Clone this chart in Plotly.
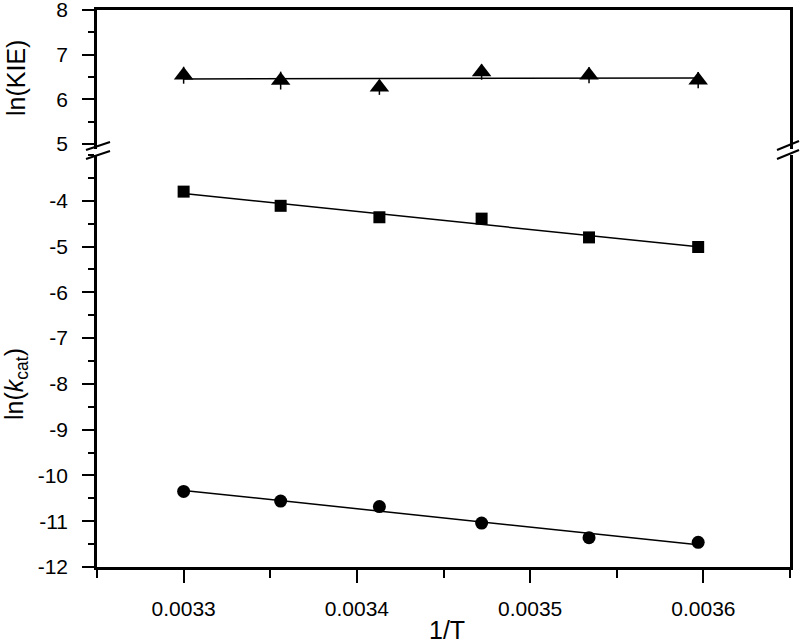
import numpy as np
import plotly.graph_objects as go
from plotly.subplots import make_subplots

# ---- data ----
inv_T = [0.003300, 0.003356, 0.003413, 0.003472, 0.003534, 0.003597]
ln_kie = [6.54, 6.42, 6.27, 6.61, 6.54, 6.43]
ln_kie_err = [0.19, 0.20, 0.17, 0.17, 0.18, 0.18]
ln_kcat_sq = [-3.80, -4.11, -4.36, -4.39, -4.80, -5.01]
ln_kcat_sq_err = [0.03, 0.03, 0.03, 0.03, 0.03, 0.03]
ln_kcat_ci = [-10.35, -10.56, -10.68, -11.04, -11.36, -11.46]
ln_kcat_ci_err = [0.03, 0.03, 0.03, 0.03, 0.08, 0.03]

x_ticks = [0.0033, 0.0034, 0.0035, 0.0036]
x_tick_text = ["0.0033", "0.0034", "0.0035", "0.0036"]
y_top_ticks = [5, 6, 7, 8]
y_top_text = ["5", "6", "7", "8"]
y_bot_ticks = [-12, -11, -10, -9, -8, -7, -6, -5, -4]
y_bot_text = ["-12", "-11", "-10", "-9", "-8", "-7", "-6", "-5", "-4"]

FONT = "Liberation Sans, Arial, sans-serif"

# plot box in screen pixels (the page body margin is removed below)
W, H = 800, 643
SCR_L, SCR_R, SCR_T, SCR_B = 97, 790, 10, 567
L, T = SCR_L, SCR_T
R, B = W - SCR_R, H - SCR_B
plot_h = SCR_B - SCR_T
plot_w = SCR_R - SCR_L
top_bottom_px = 149
bot_top_px = 155

top_dom = [(SCR_B - top_bottom_px) / plot_h, 1.0]
bot_dom = [0.0, (SCR_B - bot_top_px) / plot_h]

fig = make_subplots(rows=2, cols=1, shared_xaxes=True, vertical_spacing=0.0)


def fit_line(x, y):
    k, b = np.polyfit(np.array(x), np.array(y), 1)
    xs = np.array([min(x), max(x)])
    return xs, k * xs + b


def add_series(x, y, err, symbol, size, row):
    xs, ys = fit_line(x, y)
    fig.add_trace(go.Scatter(x=xs, y=ys, mode="lines",
                             line=dict(color="black", width=1.5),
                             showlegend=False, hoverinfo="skip"), row=row, col=1)
    fig.add_trace(go.Scatter(x=x, y=y, mode="markers",
                             marker=dict(symbol=symbol, size=size, color="black"),
                             error_y=dict(type="data", array=err, color="black",
                                          thickness=1.5, width=0),
                             showlegend=False), row=row, col=1)


add_series(inv_T, ln_kie, ln_kie_err, "triangle-up", 17, 1)
add_series(inv_T, ln_kcat_sq, ln_kcat_sq_err, "square", 12, 2)
add_series(inv_T, ln_kcat_ci, ln_kcat_ci_err, "circle", 13, 2)

axis_common = dict(showline=True, linecolor="black", linewidth=2.5,
                   showgrid=False, zeroline=False, automargin=False,
                   ticklabeloverflow="allow",
                   tickfont=dict(family=FONT, size=21, color="black"))

fig.update_xaxes(range=[0.00325, 0.00365], **axis_common)
fig.update_xaxes(row=1, col=1, side="top", showticklabels=False, ticks="",
                 mirror=False)
fig.update_xaxes(row=2, col=1, side="bottom", ticks="outside", ticklen=13,
                 tickwidth=2, tickcolor="black",
                 tickvals=x_ticks, ticktext=x_tick_text,
                 minor=dict(dtick=0.00005, tick0=0.00325, ticks="outside",
                            ticklen=8, tickwidth=2, tickcolor="black"),
                 ticklabelstandoff=8)

fig.update_yaxes(**axis_common)
fig.update_yaxes(row=1, col=1, domain=top_dom, range=[4.888, 8.0005],
                 mirror=True, ticks="outside", ticklen=12, tickwidth=2,
                 tickcolor="black", tickvals=y_top_ticks, ticktext=y_top_text,
                 minor=dict(dtick=0.5, tick0=5, ticks="outside", ticklen=6,
                            tickwidth=2, tickcolor="black"),
                 ticklabelstandoff=10)
fig.update_yaxes(row=2, col=1, domain=bot_dom, range=[-12, -3.0],
                 mirror=True, ticks="outside", ticklen=12, tickwidth=2,
                 tickcolor="black", tickvals=y_bot_ticks, ticktext=y_bot_text,
                 minor=dict(dtick=0.5, tick0=-12, ticks="outside", ticklen=6,
                            tickwidth=2, tickcolor="black"),
                 ticklabelstandoff=10)


def px2paper(px, py):
    return (px - SCR_L) / plot_w, (SCR_B - py) / plot_h


shapes = []
for (x0, y0, x1, y1) in [(86, 150, 110, 142), (86, 159, 110, 151),
                         (777, 150, 799, 141), (777, 159, 799, 150)]:
    a0, b0 = px2paper(x0, y0)
    a1, b1 = px2paper(x1, y1)
    shapes.append(dict(type="line", xref="paper", yref="paper",
                       x0=a0, y0=b0, x1=a1, y1=b1,
                       line=dict(color="black", width=2)))

title_font = dict(family=FONT, size=25, color="black")
annotations = []
ax, ay = px2paper(447, 630)
annotations.append(dict(text="1/T", x=ax, y=ay, xref="paper", yref="paper",
                        showarrow=False, xanchor="center", yanchor="middle",
                        font=title_font))
ax, ay = px2paper(16, 78)
annotations.append(dict(text="ln(KIE)", x=ax, y=ay, xref="paper", yref="paper",
                        showarrow=False, xanchor="center", yanchor="middle",
                        textangle=-90, font=title_font))
ax, ay = px2paper(16, 384)
annotations.append(dict(text="ln(<i>k</i><sub>cat</sub>)", x=ax, y=ay,
                        xref="paper", yref="paper",
                        showarrow=False, xanchor="center", yanchor="middle",
                        textangle=-90, font=title_font))

fig.update_layout(width=W, height=H, margin=dict(l=L, r=R, t=T, b=B),
                  plot_bgcolor="white", paper_bgcolor="white",
                  font=dict(family=FONT, color="black"),
                  shapes=shapes, annotations=annotations, showlegend=False)

fig.write_html("out.html",
               config={"displayModeBar": False},
               post_script="document.body.style.margin='0';"
                           "document.body.style.overflow='hidden';")
